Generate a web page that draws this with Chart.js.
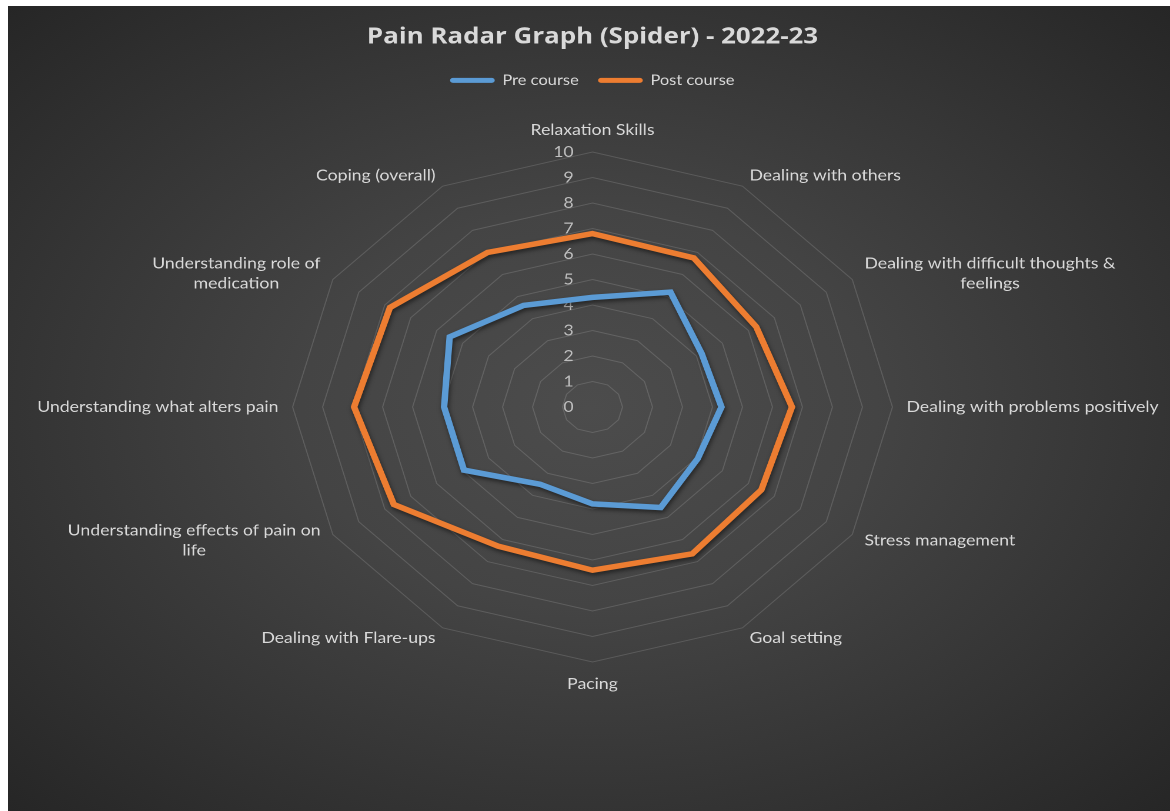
<!DOCTYPE html>
<html>
<head>
<meta charset="utf-8">
<title>Pain Radar Graph (Spider) - 2022-23</title>
<script src="https://cdn.jsdelivr.net/npm/chart.js@4.4.1/dist/chart.umd.min.js"></script>
<style>
  html, body { margin: 0; padding: 0; background: #fff; }
  #bg {
    position: absolute; left: 8px; top: 6px; width: 1162px; height: 805px; overflow: hidden;
    background: radial-gradient(ellipse farthest-corner at 50% 50%, #4c4c4c 0%, #444444 35%, #262626 100%);
  }
  /* the original picture is stretched sideways, so the chart is too */
  #wrap { position: relative; width: 988px; height: 805px; transform: scaleX(1.1761); transform-origin: 0 0; }
</style>
</head>
<body>
<div id="bg"><div id="wrap"><canvas id="radar"></canvas></div></div>
<script>
const categories = [
    'Relaxation Skills',
    'Dealing with others',
    ['Dealing with difficult thoughts &', 'feelings'],
    'Dealing with problems positively',
    'Stress management',
    'Goal setting',
    'Pacing',
    'Dealing with Flare-ups',
    ['Understanding effects of pain on', 'life'],
    'Understanding what alters pain',
    ['Understanding role of', 'medication'],
    'Coping (overall)'
];
const preCourse  = [4.3, 5.2, 4.2, 4.3, 4.05, 4.55, 3.8, 3.5, 4.95, 4.95, 5.5, 4.6];
const postCourse = [6.8, 6.75, 6.3, 6.65, 6.5, 6.65, 6.4, 6.3, 7.65, 7.95, 7.8, 7.0];
const tickLabels = ['0', '1', '2', '3', '4', '5', '6', '7', '8', '9', '10'];

const labelFont = '15px Lato';

// tick numbers left of the axis and centred category labels, placed from the r scale
const radarText = {
    id: 'radarText',
    beforeDatasetsDraw(chart) {
        const r = chart.scales.r;
        const ctx = chart.ctx;
        ctx.save();
        ctx.font = labelFont;
        ctx.fillStyle = '#bfbfbf';
        ctx.textAlign = 'right';
        ctx.textBaseline = 'middle';
        tickLabels.forEach(t => {
            const d = r.getDistanceFromCenterForValue(Number(t));
            ctx.fillText(t, r.xCenter - 16, r.yCenter - d);
        });

        ctx.fillStyle = '#d9d9d9';
        ctx.textAlign = 'center';
        const lineH = 20;
        const n = chart.data.labels.length;
        chart.data.labels.forEach((label, i) => {
            const lines = Array.isArray(label) ? label : [label];
            const p = r.getPointPosition(i, r.drawingArea + 12);
            const deg = i * 360 / n;
            const w = Math.max(...lines.map(s => ctx.measureText(s).width));
            let cx = p.x;
            if (deg > 0 && deg < 180) cx = p.x + w / 2;
            if (deg > 180) cx = p.x - w / 2;
            const h = lines.length * lineH;
            let top = p.y - h / 2;
            if (deg === 0) top = p.y - h;
            if (deg === 180) top = p.y;
            lines.forEach((s, k) => ctx.fillText(s, cx, top + lineH * (k + 0.5)));
        });
        ctx.restore();
    },
    beforeDatasetDraw(chart) {
        const ctx = chart.ctx;
        ctx.save();
        ctx.shadowColor = 'rgba(0, 0, 0, 0.5)';
        ctx.shadowBlur = 8;
        ctx.shadowOffsetX = 2;
        ctx.shadowOffsetY = 5;
    },
    afterDatasetDraw(chart) {
        chart.ctx.restore();
    }
};

const ctx = document.getElementById('radar').getContext('2d');
const myChart = new Chart(ctx, {
    type: 'radar',
    data: {
        labels: categories,
        datasets: [
            {
                label: 'Pre course',
                data: preCourse,
                borderColor: '#5b9bd5',
                backgroundColor: '#5b9bd5',
                borderWidth: 5.5,
                borderJoinStyle: 'miter',
                fill: false,
                pointRadius: 0,
                pointHoverRadius: 0
            },
            {
                label: 'Post course',
                data: postCourse,
                borderColor: '#ed7d31',
                backgroundColor: '#ed7d31',
                borderWidth: 5.5,
                borderJoinStyle: 'miter',
                fill: false,
                pointRadius: 0,
                pointHoverRadius: 0
            }
        ]
    },
    options: {
        responsive: true,
        maintainAspectRatio: false,
        devicePixelRatio: 2,
        animation: false,
        layout: {
            padding: { left: 242, right: 236, top: 0, bottom: 94 }
        },
        plugins: {
            title: {
                display: true,
                text: 'Pain Radar Graph (Spider) - 2022-23',
                color: '#d9d9d9',
                font: { family: 'Open Sans', size: 22, weight: 'bold' },
                padding: { top: 18, bottom: 6 }
            },
            legend: {
                display: true,
                position: 'top',
                labels: {
                    color: '#d9d9d9',
                    font: { family: 'Lato', size: 14 },
                    boxWidth: 37,
                    boxHeight: 4,
                    padding: 17,
                    useBorderRadius: true,
                    borderRadius: 2,
                    generateLabels(chart) {
                        return Chart.defaults.plugins.legend.labels.generateLabels(chart)
                            .map(item => Object.assign(item, { lineWidth: 1 }));
                    }
                }
            },
            tooltip: { enabled: false }
        },
        scales: {
            r: {
                min: 0,
                max: 10,
                ticks: { display: false, stepSize: 1 },
                grid: { color: 'rgba(255, 255, 255, 0.14)', lineWidth: 1 },
                angleLines: { display: false },
                pointLabels: { display: false }
            }
        }
    },
    plugins: [radarText]
});
</script>
</body>
</html>
